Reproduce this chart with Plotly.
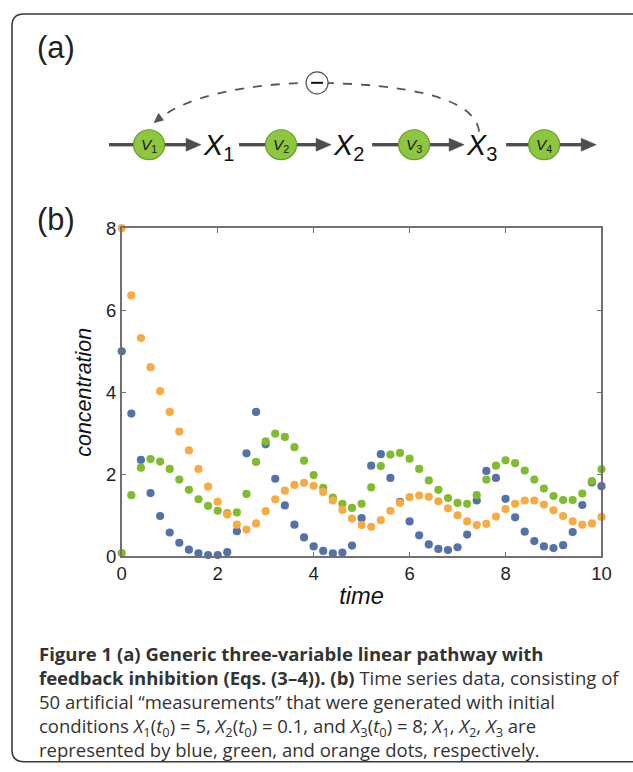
import plotly.graph_objects as go

W, H = 633, 772

# The page is photographed with a small offset and ~0.975 shrink, so the
# window-pixel positions read from the reference are mapped back here.
OFF_X, OFF_Y = 6.0, 9.0
SC_X, SC_Y = 0.976, 0.975
FS = 1 / 0.975  # font compensation

# ---------------- data ----------------
times = [0.0, 0.2, 0.4, 0.6, 0.8, 1.0, 1.2, 1.4, 1.6, 1.8,
         2.0, 2.2, 2.4, 2.6, 2.8, 3.0, 3.2, 3.4, 3.6, 3.8,
         4.0, 4.2, 4.4, 4.6, 4.8, 5.0, 5.2, 5.4, 5.6, 5.8,
         6.0, 6.2, 6.4, 6.6, 6.8, 7.0, 7.2, 7.4, 7.6, 7.8,
         8.0, 8.2, 8.4, 8.6, 8.8, 9.0, 9.2, 9.4, 9.6, 9.8, 10.0]

x1_blue = [5.00, 3.48, 2.35, 1.54, 0.98, 0.58, 0.33, 0.16, 0.07, 0.03,
           0.03, 0.10, 0.61, 2.51, 3.52, 2.73, 1.89, 1.24, 0.77, 0.46,
           0.24, 0.13, 0.07, 0.09, 0.26, 0.93, 2.21, 2.49, 1.91, 1.33,
           0.85, 0.51, 0.29, 0.18, 0.15, 0.22, 0.53, 1.36, 2.08, 1.91,
           1.40, 0.95, 0.60, 0.37, 0.24, 0.20, 0.27, 0.59, 1.25, 1.80, 1.71]

x2_green = [0.08, 1.49, 2.16, 2.37, 2.31, 2.13, 1.87, 1.62, 1.39, 1.23,
            1.11, 1.05, 1.07, 1.52, 2.30, 2.80, 2.99, 2.91, 2.66, 2.33,
            1.98, 1.67, 1.43, 1.28, 1.18, 1.28, 1.68, 2.20, 2.48, 2.52,
            2.38, 2.13, 1.85, 1.62, 1.42, 1.30, 1.28, 1.49, 1.87, 2.21,
            2.34, 2.27, 2.09, 1.87, 1.65, 1.47, 1.37, 1.37, 1.53, 1.83, 2.12]

x3_orange = [8.00, 6.36, 5.32, 4.61, 4.03, 3.52, 3.04, 2.58, 2.13, 1.70,
             1.33, 1.02, 0.77, 0.65, 0.80, 1.10, 1.39, 1.60, 1.74, 1.79,
             1.72, 1.57, 1.36, 1.13, 0.92, 0.76, 0.72, 0.88, 1.11, 1.30,
             1.44, 1.48, 1.45, 1.34, 1.17, 1.00, 0.85, 0.76, 0.79, 0.97,
             1.15, 1.28, 1.36, 1.36, 1.26, 1.12, 0.98, 0.85, 0.77, 0.80, 0.96]

x_ticks = [0, 2, 4, 6, 8, 10]
y_ticks = [0, 2, 4, 6, 8]

series_names = ["X1", "X2", "X3"]
series_colors = ["#5472a8", "#80bc2e", "#f8ab43"]

# ---------------- helpers (window pixel -> paper) ----------------
def px(x):
    return ((x - OFF_X) / SC_X) / W


def py(y):
    return 1 - ((y - OFF_Y) / SC_Y) / H


def path(cmds):
    out = []
    for c in cmds:
        if isinstance(c, str):
            out.append(c)
        else:
            out.append(f"{px(c[0]):.5f},{py(c[1]):.5f}")
    return " ".join(out)


def fs(v):
    return round(v * FS, 1)


fig = go.Figure()
for name, vals, col in zip(series_names, [x1_blue, x2_green, x3_orange], series_colors):
    fig.add_trace(go.Scatter(
        x=times, y=vals, mode="markers", name=name,
        marker=dict(color=col, size=fs(8), line=dict(width=0)),
        cliponaxis=False, showlegend=False,
    ))

axis_col = "#707070"
tick_font = dict(family="Liberation Sans, Arial, sans-serif", size=fs(18), color="#1e1e1e")

x0p, x1p = 122.7, 602.3
ytop, ybot = 226.7, 555.5

fig.update_layout(
    width=W, height=H,
    margin=dict(l=0, r=0, t=0, b=0),
    paper_bgcolor="white", plot_bgcolor="rgba(0,0,0,0)",
    showlegend=False,
    xaxis=dict(
        domain=[px(x0p), px(x1p)], range=[0, 10], tickvals=x_ticks,
        ticks="inside", ticklen=5, tickwidth=1.2, tickcolor=axis_col,
        showline=True, linecolor=axis_col, linewidth=1.5, mirror="ticks",
        showgrid=False, zeroline=False, tickfont=tick_font,
        title=dict(text="<i>time</i>", standoff=4,
                   font=dict(family="Liberation Sans, Arial, sans-serif", size=fs(23), color="#111")),
    ),
    yaxis=dict(
        domain=[py(ybot), py(ytop)], range=[0, 8], tickvals=y_ticks,
        ticks="inside", ticklen=5, tickwidth=1.2, tickcolor=axis_col,
        showline=True, linecolor=axis_col, linewidth=1.5, mirror="ticks",
        showgrid=False, zeroline=False, tickfont=tick_font,
        title=dict(text="<i>concentration</i>", standoff=8,
                   font=dict(family="Liberation Sans, Arial, sans-serif", size=fs(21), color="#111")),
    ),
)

shapes = []
annotations = []

# outer rounded frame (clipped at right/bottom)
shapes.append(dict(
    type="path", xref="paper", yref="paper",
    path=path(["M", (650, 761.5), "L", (25, 761.5), "Q", (13, 761.5), (13, 749.5),
               "L", (13, 24), "Q", (13, 12), (25, 12), "L", (650, 12)]),
    line=dict(color="#3a3a3a", width=1.6),
))

# panel labels
for lab, (lx, ly) in [("(a)", (57, 46)), ("(b)", (57, 218))]:
    annotations.append(dict(
        text=lab, x=px(lx), y=py(ly), xref="paper", yref="paper",
        showarrow=False, xanchor="center", yanchor="middle",
        font=dict(family="Liberation Sans, Arial, sans-serif", size=fs(30), color="#222"),
    ))

# pathway
PY = 143
line_col = "#4d4d4d"
segments = [(110, 135), (165, 192), (240, 267), (297, 322), (373, 400), (430, 455), (507, 530), (560, 587)]
for a, b in segments:
    shapes.append(dict(type="line", xref="paper", yref="paper",
                       x0=px(a), x1=px(b), y0=py(PY), y1=py(PY),
                       line=dict(color=line_col, width=3.4)))
for tip in [202, 332, 465, 597]:
    shapes.append(dict(
        type="path", xref="paper", yref="paper",
        path=path(["M", (tip, PY), "L", (tip - 15, PY - 6.5), "L", (tip - 15, PY + 6.5), "Z"]),
        fillcolor=line_col, line=dict(color=line_col, width=0.5),
    ))

# enzyme circles
for i, cx in enumerate([150, 282, 415, 545]):
    shapes.append(dict(
        type="circle", xref="paper", yref="paper",
        x0=px(cx - 15.5), x1=px(cx + 15.5), y0=py(PY - 15), y1=py(PY + 15),
        fillcolor="#8dc63f", line=dict(color="#67a02c", width=1.2),
    ))
    annotations.append(dict(
        text=f"<i>V</i><sub>{i + 1}</sub>", x=px(cx), y=py(PY + 1), xref="paper", yref="paper",
        showarrow=False, xanchor="center", yanchor="middle",
        font=dict(family="Liberation Sans, Arial, sans-serif", size=fs(15), color="#1a1a1a"),
    ))

# metabolite labels
for i, cx in enumerate([219, 349, 482]):
    annotations.append(dict(
        text=f"<i>X</i><sub>{i + 1}</sub>", x=px(cx), y=py(PY + 2), xref="paper", yref="paper",
        showarrow=False, xanchor="center", yanchor="middle",
        font=dict(family="Liberation Sans, Arial, sans-serif", size=fs(28), color="#111"),
    ))

# dashed feedback arc
shapes.append(dict(
    type="path", xref="paper", yref="paper",
    path=path(["M", (480, 130), "C", (476, 94), (400, 82), (318, 81),
               "C", (250, 81), (188, 95), (163, 115)]),
    line=dict(color="#555", width=1.8, dash="dash"),
))
shapes.append(dict(
    type="path", xref="paper", yref="paper",
    path=path(["M", (155, 121), "L", (164.5, 118.5), "L", (159.5, 111.5), "Z"]),
    fillcolor="#555", line=dict(color="#555", width=0.5),
))
shapes.append(dict(
    type="circle", xref="paper", yref="paper",
    x0=px(307), x1=px(329), y0=py(70), y1=py(92),
    fillcolor="white", line=dict(color="#555", width=1.2),
))
shapes.append(dict(type="line", xref="paper", yref="paper",
                   x0=px(312), x1=px(324), y0=py(81), y1=py(81),
                   line=dict(color="#111", width=2)))

# caption (one text block, five lines)
cap_font = dict(family="Open Sans, Noto Sans, sans-serif", size=fs(18), color="#333")
caption_lines = [
    "<b>Figure 1 (a) Generic three-variable linear pathway with</b>",
    "<b>feedback inhibition (Eqs. (3–4)). (b)</b> Time series data, consisting of",
    "50 artificial “measurements” that were generated with initial",
    "conditions <i>X</i><sub>1</sub>(<i>t</i><sub>0</sub>) = 5, <i>X</i><sub>2</sub>(<i>t</i><sub>0</sub>) = 0.1, "
    "and <i>X</i><sub>3</sub>(<i>t</i><sub>0</sub>) = 8; <i>X</i><sub>1</sub>, <i>X</i><sub>2</sub>, "
    "<i>X</i><sub>3</sub> are",
    "represented by blue, green, and orange dots, respectively.",
]
annotations.append(dict(
    text="<br>".join(caption_lines), x=px(38), y=py(701), xref="paper", yref="paper",
    showarrow=False, xanchor="left", yanchor="middle", align="left",
    font=cap_font,
))

fig.update_layout(shapes=shapes, annotations=annotations)
fig.write_html("out.html")
